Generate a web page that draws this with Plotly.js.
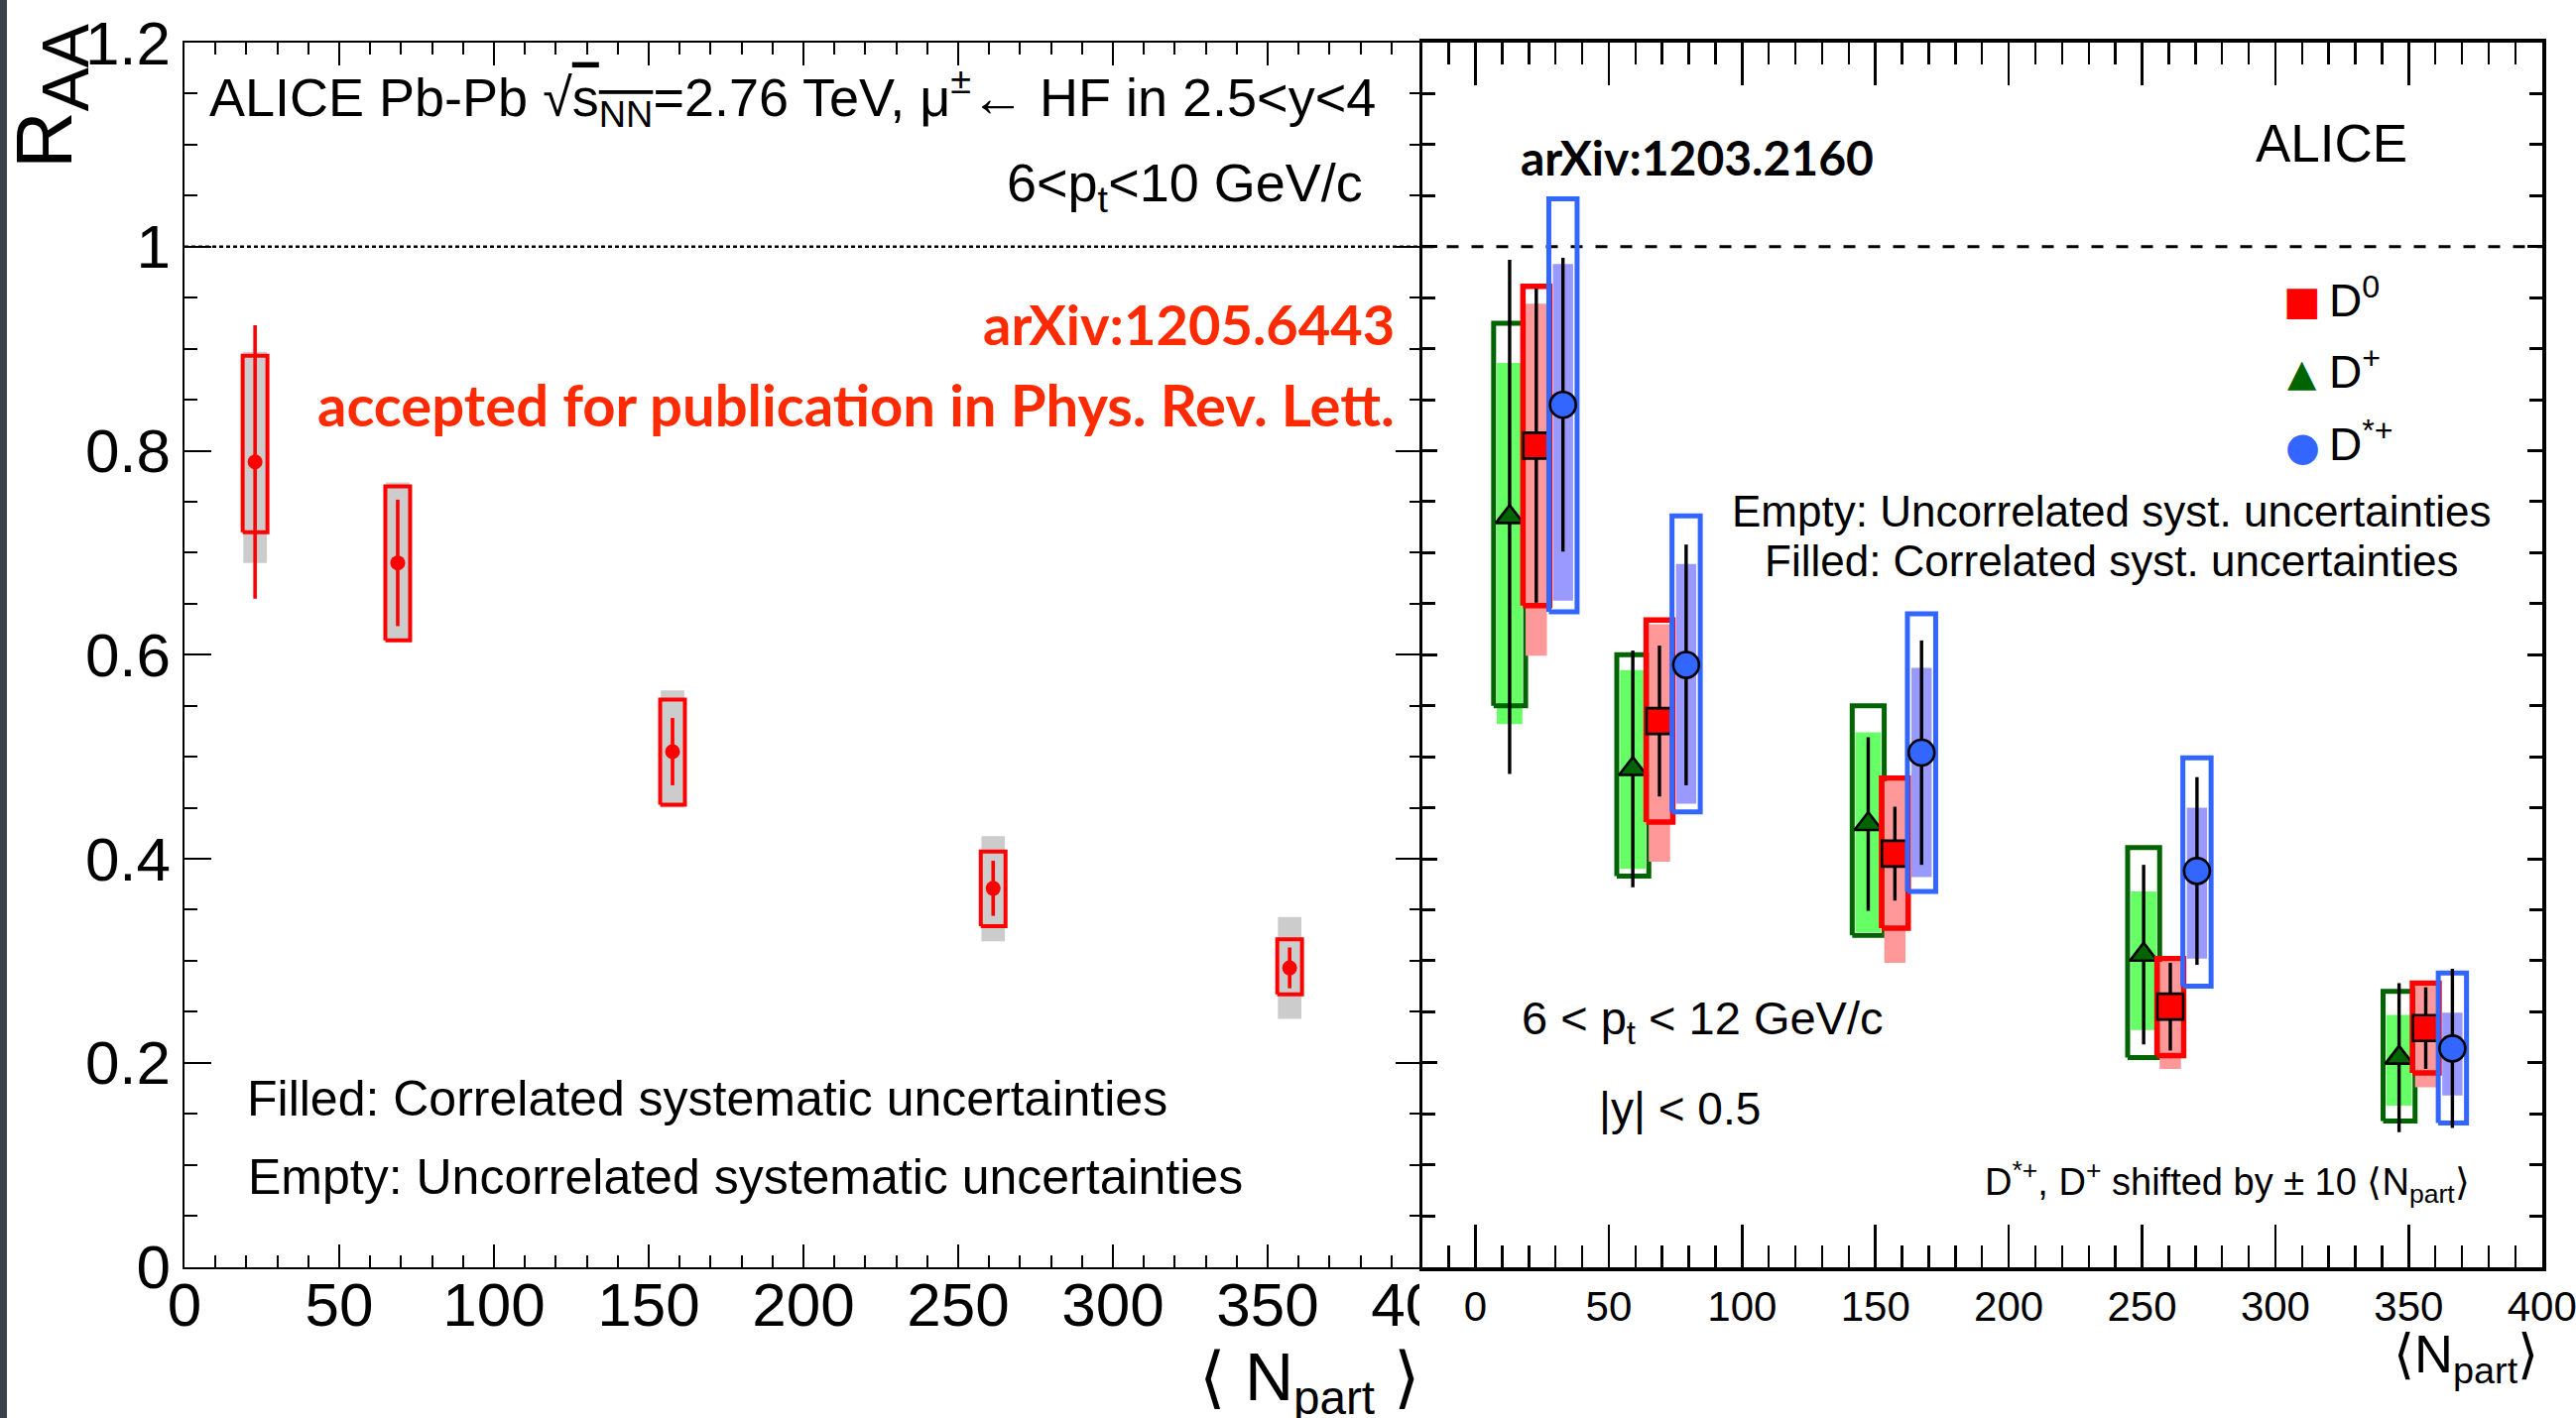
<!DOCTYPE html>
<html>
<head>
<meta charset="utf-8">
<script src="https://cdn.plot.ly/plotly-3.0.1.min.js"></script>
<style>
  html, body { margin: 0; padding: 0; background: #ffffff; }
  #wrap { position: relative; width: 2597px; height: 1430px; overflow: hidden; background: #ffffff; }
  #muon { position: absolute; left: 0; top: 0; width: 1500px; height: 1430px; }
  #dmeson { position: absolute; left: 1431px; top: 0; width: 1166px; height: 1430px; }
</style>
</head>
<body>
<div id="wrap"><div id="muon"></div><div id="dmeson"></div></div>
<script>
// ---------- muons from heavy-flavour decays, 2.5<y<4, 6<pt<10 GeV/c ----------
const npartMu = [22.8, 68.9, 157.7, 261.3, 357.1];
const raaMu   = [0.789, 0.690, 0.505, 0.371, 0.293];
const statMu  = [0.134, 0.062, 0.033, 0.027, 0.020];
const uncHiMu = [0.104, 0.075, 0.051, 0.036, 0.028];
const uncLoMu = [0.069, 0.076, 0.052, 0.037, 0.026];
const corHiMu = [0.108, 0.079, 0.060, 0.051, 0.050];
const corLoMu = [0.099, 0.075, 0.055, 0.052, 0.050];

// ---------- D mesons, |y|<0.5, 6<pt<12 GeV/c ----------
const npartD = [22.8, 69.0, 157.3, 260.6, 356.4];
const shiftD = 10;   // D*+ drawn at +10, D+ at -10

const raaD0   = [0.805, 0.535, 0.405, 0.255, 0.234];
const statD0  = [0.154, 0.074, 0.046, 0.043, 0.040];
const uncHiD0 = [0.156, 0.099, 0.074, 0.047, 0.044];
const uncLoD0 = [0.157, 0.099, 0.073, 0.048, 0.044];
const corHiD0 = [0.139, 0.095, 0.071, 0.044, 0.041];
const corLoD0 = [0.206, 0.138, 0.107, 0.061, 0.058];

const raaDp   = [0.735, 0.488, 0.434, 0.306, 0.205];
const statDp  = [0.252, 0.116, 0.085, 0.088, 0.073];
const uncHiDp = [0.190, 0.112, 0.116, 0.105, 0.065];
const uncLoDp = [0.185, 0.105, 0.109, 0.101, 0.062];
const corHiDp = [0.151, 0.097, 0.090, 0.062, 0.042];
const corLoDp = [0.203, 0.098, 0.106, 0.074, 0.047];

const raaDs   = [0.845, 0.590, 0.504, 0.388, 0.214];
const statDs  = [0.144, 0.118, 0.110, 0.092, 0.078];
const uncHiDs = [0.202, 0.146, 0.136, 0.111, 0.074];
const uncLoDs = [0.203, 0.144, 0.136, 0.113, 0.073];
const corHiDs = [0.138, 0.099, 0.083, 0.062, 0.035];
const corLoDs = [0.192, 0.136, 0.122, 0.086, 0.046];

// ---------- axis ticks ----------
const xTickVals = [0, 50, 100, 150, 200, 250, 300, 350, 400];
const xTickText = ['0', '50', '100', '150', '200', '250', '300', '350', '400'];
const yTickVals = [0, 0.2, 0.4, 0.6, 0.8, 1.0, 1.2];
const yTickText = ['0', '0.2', '0.4', '0.6', '0.8', '1', '1.2'];

const FONT = 'Liberation Sans, Arial, Helvetica, sans-serif';
const HAND = 'Lato, DejaVu Sans, sans-serif';
const H = 1430;

// rectangles (one per point) joined by gaps, for systematic-uncertainty boxes
function boxes(xc, yc, lo, hi, hw) {
  const x = [], y = [];
  xc.forEach((c, i) => {
    const y0 = yc[i] - lo[i], y1 = yc[i] + hi[i];
    x.push(c - hw, c + hw, c + hw, c - hw, c - hw, null);
    y.push(y0, y0, y1, y1, y0, null);
  });
  return { x, y };
}
function filledBoxes(xc, yc, lo, hi, hw, color) {
  const b = boxes(xc, yc, lo, hi, hw);
  return { x: b.x, y: b.y, type: 'scatter', mode: 'lines', fill: 'toself',
           fillcolor: color, line: { width: 0, color: color }, hoverinfo: 'skip', showlegend: false };
}
function emptyBoxes(xc, yc, lo, hi, hw, color, w) {
  const b = boxes(xc, yc, lo, hi, hw);
  return { x: b.x, y: b.y, type: 'scatter', mode: 'lines',
           line: { width: w, color: color }, hoverinfo: 'skip', showlegend: false };
}

// ======================= left panel: HF muons =======================
const W1 = 1500;
const lx = v => v / W1;
const ly = v => 1 - v / H;

const muTraces = [
  filledBoxes(npartMu, raaMu, corLoMu, corHiMu, 3.8, '#cccccc'),
  emptyBoxes(npartMu, raaMu, uncLoMu, uncHiMu, 4.0, '#ff0000', 4),
  { x: npartMu, y: raaMu, type: 'scatter', mode: 'markers',
    marker: { symbol: 'circle', size: 15, color: '#ff0000' },
    error_y: { type: 'data', array: statMu, visible: true, color: '#ff0000', thickness: 3.6, width: 0 },
    hoverinfo: 'skip', showlegend: false }
];

function muAnn(x, y, text, size, extra) {
  return Object.assign({ xref: 'paper', yref: 'paper', x: lx(x), y: ly(y), text: text,
    showarrow: false, xanchor: 'left', yanchor: 'middle',
    font: { family: FONT, size: size, color: '#000000' } }, extra || {});
}

const muLayout = {
  width: W1, height: H,
  margin: { l: 0, r: 0, t: 0, b: 0 },
  paper_bgcolor: '#ffffff', plot_bgcolor: '#ffffff',
  showlegend: false,
  xaxis: {
    domain: [186 / W1, 1434 / W1], range: [0, 400],
    tickmode: 'array', tickvals: xTickVals, ticktext: xTickText,
    ticks: 'inside', ticklen: 23, tickwidth: 2, tickcolor: '#000',
    minor: { tickmode: 'linear', tick0: 0, dtick: 10, ticks: 'inside', ticklen: 12, tickwidth: 2, tickcolor: '#000' },
    showline: true, linewidth: 2.5, linecolor: '#000', mirror: 'allticks',
    showgrid: false, zeroline: false, ticklabelstandoff: -17, ticklabeloverflow: 'allow',
    tickfont: { family: FONT, size: 62, color: '#000' }
  },
  yaxis: {
    domain: [(H - 1277.5) / H, (H - 43) / H], range: [0, 1.2],
    tickmode: 'array', tickvals: yTickVals, ticktext: yTickText,
    ticks: 'inside', ticklen: 27, tickwidth: 2, tickcolor: '#000',
    minor: { tickmode: 'linear', tick0: 0, dtick: 0.05, ticks: 'inside', ticklen: 13, tickwidth: 2, tickcolor: '#000' },
    showline: true, linewidth: 2.5, linecolor: '#000', mirror: 'allticks',
    showgrid: false, zeroline: false, ticklabelstandoff: -1,
    tickfont: { family: FONT, size: 62, color: '#000' }
  },
  shapes: [
    { type: 'line', xref: 'x domain', yref: 'y', x0: 0, x1: 1, y0: 1, y1: 1,
      line: { color: '#000', width: 2.5, dash: '4px,3px' }, layer: 'below' },
    { type: 'rect', xref: 'paper', yref: 'paper', x0: 0, x1: 7 / W1, y0: 0, y1: 1,
      fillcolor: '#3c404b', line: { width: 0 } }
  ],
  annotations: [
    muAnn(209, 98, 'ALICE Pb-Pb √<span style="text-decoration:overline">s<sub>NN</sub></span>=2.76 TeV, μ<sup>±</sup>← HF in 2.5&lt;y&lt;4', 54),
    muAnn(1376, 188, '6&lt;p<sub>t</sub>&lt;10 GeV/c', 54, { xanchor: 'right' }),
    muAnn(1408, 326, 'arXiv:1205.6443', 56,
      { xanchor: 'right', font: { family: HAND, size: 56, color: '#ff2a00', weight: 'bold' } }),
    muAnn(1408, 408, 'accepted for publication in Phys. Rev. Lett.', 58,
      { xanchor: 'right', font: { family: HAND, size: 58, color: '#ff2a00', weight: 'bold' } }),
    muAnn(247, 1108, 'Filled: Correlated systematic uncertainties', 50),
    muAnn(248, 1187, 'Empty: Uncorrelated systematic uncertainties', 50),
    muAnn(52, 22, 'R<sub><span style="font-size:66px">AA</span></sub>', 80,
      { textangle: -90, xanchor: 'center', yanchor: 'top' }),
    muAnn(1434, 1348, '⟨ N<sub>part</sub> ⟩', 68, { xanchor: 'right', yanchor: 'top' })
  ]
};

// ======================= right panel: D mesons =======================
const X0 = 1431, W2 = 1166;
const rx = v => (v - X0) / W2;
const ry = v => 1 - v / H;

const npartDp = npartD.map(v => v - shiftD);
const npartDs = npartD.map(v => v + shiftD);

function dPoints(xs, ys, stat, symbol, size, color) {
  return { x: xs, y: ys, type: 'scatter', mode: 'markers',
    marker: { symbol: symbol, size: size, color: color, line: { color: '#000', width: 2.6 } },
    error_y: { type: 'data', array: stat, visible: true, color: '#000', thickness: 3.4, width: 0 },
    hoverinfo: 'skip', showlegend: false };
}

const dTraces = [
  // D+ (shifted left)
  filledBoxes(npartDp, raaDp, corLoDp, corHiDp, 4.8, '#66ff66'),
  emptyBoxes(npartDp, raaDp, uncLoDp, uncHiDp, 6.0, '#006400', 5),
  dPoints(npartDp, raaDp, statDp, 'triangle-up', 24, '#006400'),
  // D0
  filledBoxes(npartD, raaD0, corLoD0, corHiD0, 4.0, '#ff9999'),
  emptyBoxes(npartD, raaD0, uncLoD0, uncHiD0, 5.0, '#ff0000', 5.5),
  dPoints(npartD, raaD0, statD0, 'square', 26, '#ff0000'),
  // D*+ (shifted right)
  filledBoxes(npartDs, raaDs, corLoDs, corHiDs, 3.8, '#9999ff'),
  emptyBoxes(npartDs, raaDs, uncLoDs, uncHiDs, 5.3, '#3366ff', 5),
  dPoints(npartDs, raaDs, statDs, 'circle', 26, '#3366ff')
];

function dAnn(x, y, text, size, extra) {
  return Object.assign({ xref: 'paper', yref: 'paper', x: rx(x), y: ry(y), text: text,
    showarrow: false, xanchor: 'left', yanchor: 'middle',
    font: { family: FONT, size: size, color: '#000000' } }, extra || {});
}

const dLayout = {
  width: W2, height: H,
  margin: { l: 0, r: 0, t: 0, b: 0 },
  paper_bgcolor: '#ffffff', plot_bgcolor: '#ffffff',
  showlegend: false,
  xaxis: {
    domain: [(1433.5 - X0) / W2, (2562.7 - X0) / W2], range: [-20.1, 400],
    tickmode: 'array', tickvals: xTickVals, ticktext: xTickText,
    ticks: 'inside', ticklen: 43, tickwidth: 2.5, tickcolor: '#000',
    minor: { tickmode: 'linear', tick0: 0, dtick: 10, ticks: 'inside', ticklen: 22, tickwidth: 2.5, tickcolor: '#000' },
    showline: true, linewidth: 4, linecolor: '#000', mirror: 'allticks',
    showgrid: false, zeroline: false, ticklabelstandoff: 0, ticklabeloverflow: 'allow',
    tickfont: { family: FONT, size: 42, color: '#000' }
  },
  yaxis: {
    domain: [(H - 1277.5) / H, (H - 43) / H], range: [0, 1.2],
    tickmode: 'array', tickvals: yTickVals, showticklabels: false,
    ticks: 'inside', ticklen: 15, tickwidth: 3, tickcolor: '#000',
    minor: { tickmode: 'linear', tick0: 0, dtick: 0.05, ticks: 'inside', ticklen: 13, tickwidth: 3, tickcolor: '#000' },
    showline: true, linewidth: 4, linecolor: '#000', mirror: 'allticks',
    showgrid: false, zeroline: false
  },
  shapes: [
    { type: 'line', xref: 'x domain', yref: 'y', x0: 0, x1: 1, y0: 1, y1: 1,
      line: { color: '#000', width: 3, dash: '12px,13px' }, layer: 'below' }
  ],
  annotations: [
    dAnn(1531, 158, 'arXiv:1203.2160', 48,
      { font: { family: HAND, size: 48, color: '#000', weight: 'bold' } }),
    dAnn(2272, 145, 'ALICE', 53),
    // legend
    dAnn(2321, 303, '■', 40, { xanchor: 'center', font: { family: 'DejaVu Sans', size: 40, color: '#ff0000' } }),
    dAnn(2321, 376, '▲', 38, { xanchor: 'center', font: { family: 'DejaVu Sans', size: 38, color: '#006400' } }),
    dAnn(2321, 450, '●', 40, { xanchor: 'center', font: { family: 'DejaVu Sans', size: 40, color: '#3366ff' } }),
    dAnn(2346, 300, 'D<sup>0</sup>', 46),
    dAnn(2346, 372, 'D<sup>+</sup>', 46),
    dAnn(2346, 445, 'D<sup>*+</sup>', 46),
    dAnn(2128, 515, 'Empty: Uncorrelated syst. uncertainties', 44, { xanchor: 'center' }),
    dAnn(2128, 565, 'Filled: Correlated syst. uncertainties', 44, { xanchor: 'center' }),
    dAnn(1532, 1030, '6 &lt; p<sub>t</sub> &lt; 12 GeV/c', 47),
    dAnn(1610, 1118, '|y| &lt; 0.5', 46),
    dAnn(2492, 1192, 'D<sup>*+</sup>, D<sup>+</sup> shifted by ± 10 ⟨N<sub>part</sub>⟩', 38, { xanchor: 'right' }),
    dAnn(2561, 1333, '⟨N<sub>part</sub>⟩', 54, { xanchor: 'right', yanchor: 'top' })
  ]
};

const cfg = { staticPlot: true, displayModeBar: false };
Plotly.newPlot('muon', muTraces, muLayout, cfg);
Plotly.newPlot('dmeson', dTraces, dLayout, cfg);
</script>
</body>
</html>
